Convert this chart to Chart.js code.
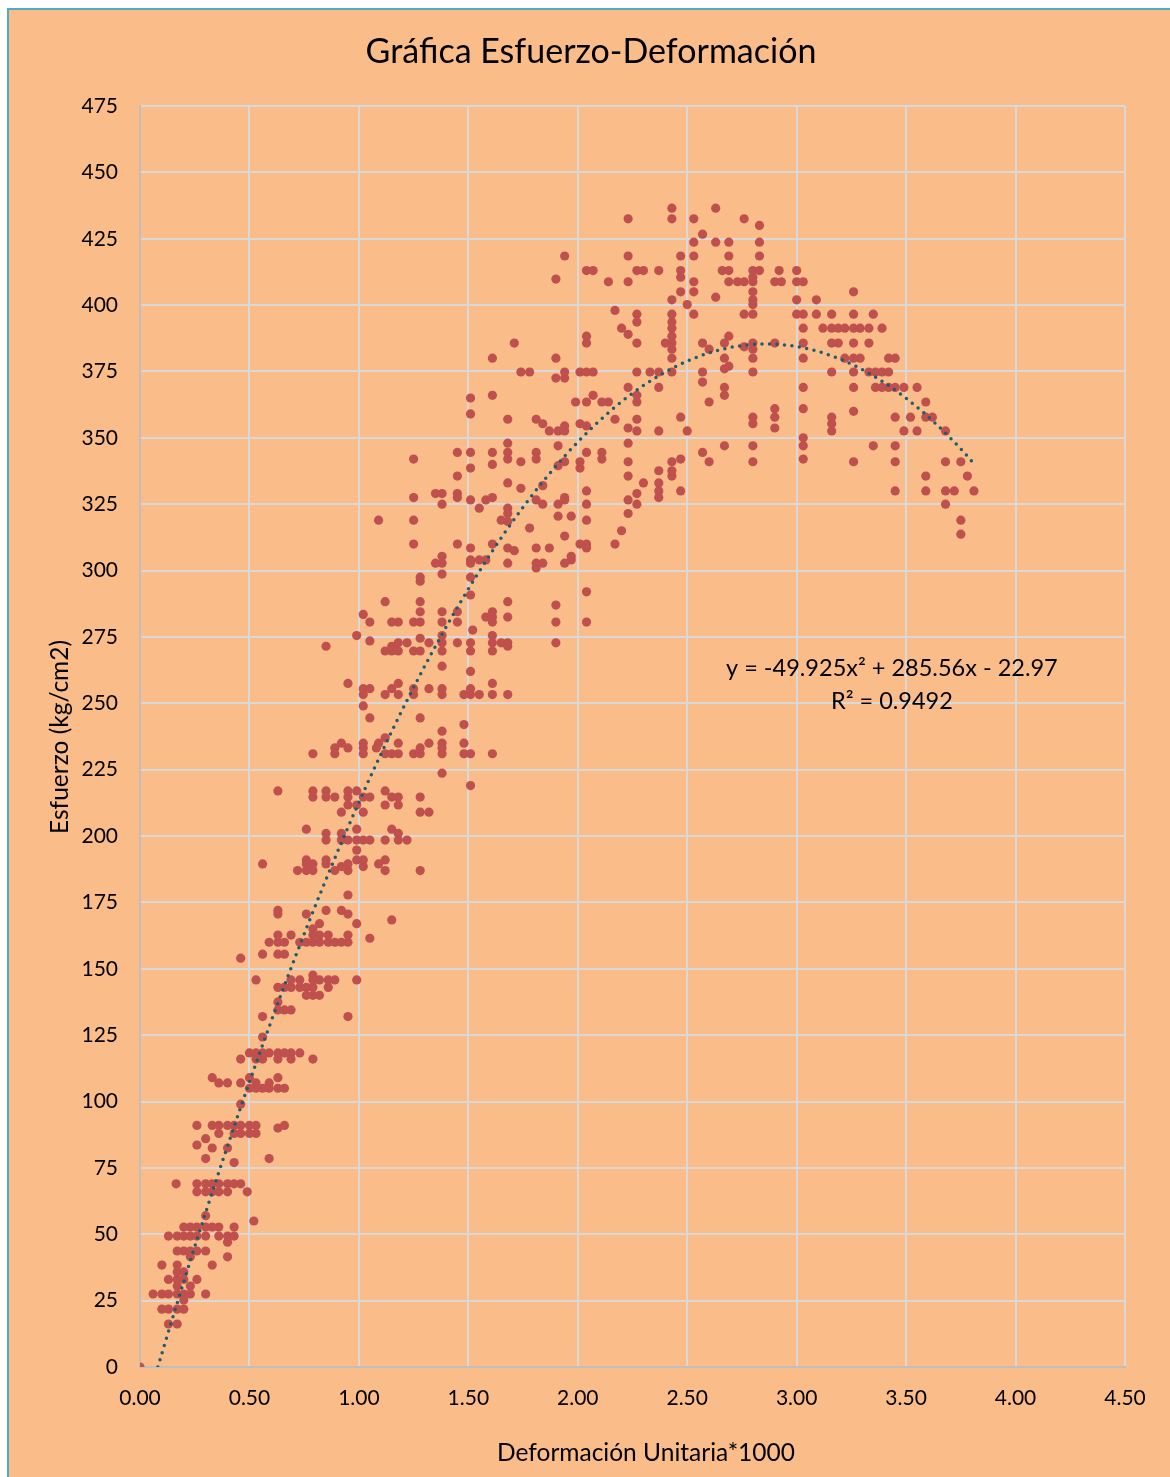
<!DOCTYPE html>
<html lang="es">
<head>
<meta charset="utf-8">
<title>Gráfica Esfuerzo-Deformación</title>
<script src="https://cdn.jsdelivr.net/npm/chart.js@4.4.1/dist/chart.umd.min.js"></script>
<style>
  html, body { margin: 0; padding: 0; background: #fff; overflow: hidden; }
  #marco {
    position: absolute; left: 7px; top: 8px; width: 1200px; height: 1500px;
    background: #FABC89; border-left: 2px solid #4BACC6; border-top: 2px solid #4BACC6;
  }
  #grafica { position: absolute; left: 0; top: 0; }
</style>
</head>
<body>
<div id="marco"></div>
<canvas id="grafica" width="1170" height="1477"></canvas>
<script>
const esfuerzo = [
  0, 16.2, 21.8, 25.2, 27.5, 30.5, 33, 35.8, 38.4, 41.5, 43.7, 47, 49.3, 52.7, 55, 57, 66, 69,
  77, 78.5, 82.5, 83.6, 86, 88, 90, 91, 99, 105, 107, 109, 116, 118.3, 124.3, 132, 134.5, 137.5,
  140, 143, 145.8, 147.6, 154, 155.5, 160, 161.5, 162.7, 165, 167, 168.4, 170.6, 172, 177.8,
  187, 188.5, 189.5, 191, 194.7, 198.5, 201, 202.6, 209, 211.7, 214.7, 217, 219, 223.7,
  231, 233.2, 235, 237, 239.5, 242, 244.5, 249, 253.3, 255.5, 257.5, 262, 264,
  269.7, 271.5, 272.8, 273.5, 274.5, 275.5, 277.6, 280.6, 282.5, 283.5, 284.5, 287, 288.3,
  290.8, 292, 296, 297.5, 298.7, 301, 302.8, 304, 305.4, 307.5, 308.5, 310, 313, 313.7, 315,
  316, 318.5, 319, 320.5, 321.5, 323.5, 325, 326.6, 327.5, 329, 330, 331, 332, 333, 335.6,
  337.6, 338.6, 339.5, 340, 341, 342, 344.5, 347, 348, 350, 352.6, 353.7, 354.5, 355.3, 357,
  357.8, 359, 360, 361, 363.5, 365, 366, 369, 371, 372.5, 374.8, 376, 377, 380, 383.4, 384.3,
  385.7, 388.3, 389, 391.3, 393.6, 396.6, 398, 400.2, 402, 403, 405, 408.8, 409.8, 410.5,
  413, 418.5, 423.7, 426.7, 430, 432.5, 436.5
];

const deformacion = [
  [0], [0.13, 0.17], [0.10, 0.13, 0.17, 0.20], [0.20],
  [0.06, 0.10, 0.13, 0.17, 0.20, 0.23, 0.30], [0.17, 0.23], [0.13, 0.17, 0.20, 0.26], [0.17, 0.20],
  [0.10, 0.17, 0.33], [0.23, 0.40], [0.17, 0.20, 0.23, 0.26, 0.30], [0.40],
  [0.13, 0.17, 0.20, 0.23, 0.26, 0.30, 0.36, 0.40, 0.43], [0.20, 0.23, 0.26, 0.30, 0.33, 0.36, 0.43],
  [0.52], [0.30], [0.26, 0.30, 0.33, 0.36, 0.40, 0.49], [0.165, 0.26, 0.30, 0.33, 0.36, 0.40, 0.43, 0.46],
  // 77 - 137.5
  [0.43], [0.30, 0.59], [0.33, 0.40], [0.26], [0.30], [0.36, 0.43, 0.46, 0.50, 0.53], [0.63],
  [0.26, 0.33, 0.36, 0.40, 0.43, 0.46, 0.50, 0.53, 0.66], [0.46], [0.50, 0.53, 0.56, 0.59, 0.63, 0.66],
  [0.36, 0.40, 0.46, 0.53, 0.59], [0.33, 0.50, 0.63], [0.46, 0.53, 0.56, 0.63, 0.69, 0.79],
  [0.50, 0.53, 0.56, 0.59, 0.63, 0.66, 0.69, 0.73], [0.56], [0.56, 0.95], [0.63, 0.66, 0.69], [0.63],
  // 140 - 177.8
  [0.76, 0.79, 0.82], [0.63, 0.66, 0.69, 0.73, 0.76, 0.79, 0.86], [0.53, 0.69, 0.73, 0.79, 0.82, 0.86, 0.89, 0.99],
  [0.79], [0.46], [0.56, 0.63, 0.66], [0.59, 0.63, 0.66, 0.73, 0.76, 0.79, 0.82, 0.86, 0.89, 0.92, 0.95],
  [1.05], [0.63, 0.69, 0.79, 0.82, 0.86, 0.95], [0.79], [0.82, 0.99], [1.15], [0.63, 0.76, 0.95],
  [0.63, 0.85, 0.92], [0.95],
  // 187 - 223.7
  [0.72, 0.76, 0.79, 0.89, 0.95, 1.12, 1.28], [0.92, 1.02], [0.56, 0.76, 0.79, 0.85, 0.95, 1.09],
  [0.76, 0.85, 0.99, 1.02, 1.12], [0.99], [0.85, 0.92, 0.95, 0.99, 1.02, 1.05, 1.12, 1.18, 1.22],
  [0.85, 0.92, 1.18], [0.76, 0.99, 1.15], [0.92, 1.02, 1.28, 1.32], [0.95, 0.99, 1.12, 1.18],
  [0.79, 0.85, 0.89, 0.95, 1.02, 1.05, 1.15, 1.18, 1.28], [0.63, 0.79, 0.85, 0.95, 0.99, 1.12], [1.51], [1.38],
  // 231 - 264
  [0.79, 0.89, 1.02, 1.12, 1.15, 1.18, 1.25, 1.28, 1.38, 1.48, 1.51, 1.61], [0.89, 0.95, 1.02, 1.08, 1.28, 1.38],
  [0.92, 1.02, 1.09, 1.18, 1.32, 1.38, 1.48], [1.12], [1.38], [1.48], [1.05, 1.28], [1.02],
  [1.02, 1.12, 1.18, 1.25, 1.38, 1.48, 1.51, 1.55, 1.61, 1.68], [1.02, 1.05, 1.15, 1.25, 1.32, 1.38, 1.51],
  [0.95, 1.18, 1.61], [1.51], [1.38],
  // 269.7 - 288.3
  [1.12, 1.15, 1.18, 1.25, 1.28, 1.38, 1.51, 1.61], [0.85, 1.15, 1.68],
  [1.18, 1.22, 1.32, 1.38, 1.45, 1.51, 1.61, 1.65, 1.68, 1.90], [1.05], [1.28], [0.99, 1.38, 1.61], [1.52],
  [1.05, 1.15, 1.18, 1.25, 1.28, 1.38, 1.45, 1.61, 1.90, 2.04], [1.58, 1.61, 1.68], [1.02],
  [1.28, 1.38, 1.45, 1.61], [1.90], [1.12, 1.28, 1.68],
  // 290.8 - 315
  [1.51], [2.04], [1.28], [1.28, 1.51], [1.38], [1.81], [1.35, 1.38, 1.51, 1.68, 1.81, 1.84, 1.94],
  [1.51, 1.55, 1.58, 1.97], [1.38, 1.97], [1.71], [1.51, 1.68, 1.81, 1.87, 2.04],
  [1.25, 1.45, 1.61, 2.01, 2.04, 2.17], [1.94], [3.75], [2.20],
  // 316 - 335.6
  [1.78], [1.68], [1.09, 1.25, 1.65, 2.04, 3.75], [1.91, 1.97], [1.68, 2.23], [1.55, 1.68],
  [1.38, 1.84, 1.91, 2.04, 2.27, 3.68], [1.51, 1.58, 1.81, 1.94, 2.23], [1.25, 1.45, 1.61, 1.94, 2.37],
  [1.35, 1.38, 1.45, 2.27], [2.04, 2.37, 2.47, 3.45, 3.59, 3.68, 3.72, 3.81], [1.74], [1.84],
  [1.68, 2.30, 2.37], [1.45, 2.23, 2.43, 3.59, 3.78],
  // 337.6 - 357
  [2.37, 2.43], [1.51, 2.01], [1.91], [1.61], [1.74, 1.94, 2.01, 2.23, 2.43, 2.60, 2.80, 3.26, 3.45, 3.68, 3.75],
  [1.25, 1.68, 1.81, 2.11, 2.47, 3.03], [1.45, 1.51, 1.61, 1.68, 1.81, 2.04, 2.11, 2.57],
  [1.91, 2.67, 2.80, 3.03, 3.35, 3.45], [1.68, 2.23], [3.03],
  [1.87, 1.91, 1.94, 2.27, 2.37, 2.50, 3.16, 3.49, 3.55, 3.68], [2.23, 2.90], [1.94, 2.04],
  [1.84, 2.01, 2.80, 3.16], [1.68, 1.81, 2.17, 2.27],
  // 357.8 - 384.3
  [2.47, 2.80, 2.90, 3.16, 3.45, 3.52, 3.59, 3.62], [1.51], [3.26], [2.90, 3.03],
  [1.99, 2.04, 2.11, 2.14, 2.27, 2.60, 3.59], [1.51], [1.61, 2.07, 2.27, 2.67],
  [2.23, 2.37, 2.67, 3.03, 3.26, 3.36, 3.39, 3.42, 3.45, 3.49, 3.55], [2.57], [1.90, 1.94],
  [1.74, 1.78, 1.94, 2.01, 2.04, 2.07, 2.27, 2.33, 2.37, 2.43, 2.57, 2.80, 3.16, 3.26, 3.33, 3.36, 3.39, 3.42],
  [2.67], [2.69], [1.61, 1.90, 2.43, 2.67, 2.80, 3.03, 3.22, 3.26, 3.29, 3.42, 3.45], [2.43, 2.60, 2.80], [2.76],
  // 385.7 - 410.5
  [1.71, 2.04, 2.27, 2.40, 2.43, 2.57, 2.67, 2.80, 2.90, 3.03, 3.16, 3.19, 3.26, 3.33], [2.04, 2.43, 2.69], [2.23],
  [2.20, 2.43, 3.03, 3.12, 3.16, 3.19, 3.22, 3.26, 3.29, 3.33, 3.39], [2.27, 2.43],
  [2.27, 2.43, 2.53, 2.76, 2.80, 3.00, 3.03, 3.09, 3.16, 3.26, 3.35], [2.17], [2.50, 2.80],
  [2.43, 2.80, 3.00, 3.09], [2.63], [2.47, 2.53, 2.80, 3.26],
  [2.14, 2.23, 2.53, 2.69, 2.73, 2.76, 2.80, 2.90, 2.93, 3.00, 3.03], [1.90], [2.47, 2.80],
  // 413 - 436.5
  [2.04, 2.07, 2.27, 2.30, 2.37, 2.47, 2.66, 2.69, 2.80, 2.83, 2.92, 3.00], [1.94, 2.23, 2.47, 2.53, 2.69, 2.83],
  [2.53, 2.63, 2.69, 2.83], [2.57], [2.83], [2.23, 2.43, 2.53, 2.76], [2.43, 2.63]
];

// Línea de tendencia polinómica (grado 2): a·x² + b·x + c
const coefTendencia = [-49.925, 285.56, -22.97];
const r2 = 0.9492;
const finTendencia = 3.81;

const puntos = [];
esfuerzo.forEach((s, i) => {
  deformacion[i].forEach(d => puntos.push({ x: d, y: s }));
});

const [a, b, c] = coefTendencia;
const inicioTendencia = (-b + Math.sqrt(b * b - 4 * a * c)) / (2 * a);
const curva = [];
for (let x = inicioTendencia; x <= finTendencia + 1e-9; x += 0.01) {
  curva.push({ x: x, y: a * x * x + b * x + c });
}

const FUENTE = 'Lato, "Open Sans", sans-serif';

const textos = {
  id: 'textos',
  afterDraw(chart) {
    const ctx = chart.ctx;
    const sx = chart.scales.x, sy = chart.scales.y;
    ctx.save();
    ctx.fillStyle = '#000';
    ctx.textBaseline = 'middle';
    ctx.textAlign = 'center';

    ctx.font = '34px ' + FUENTE;
    ctx.fillText('Gráfica Esfuerzo-Deformación', 591, 52);

    ctx.font = '24.5px ' + FUENTE;
    ctx.fillText('Deformación Unitaria*1000', 646, 1453);

    ctx.save();
    ctx.translate(60, 737);
    ctx.rotate(-Math.PI / 2);
    ctx.fillText('Esfuerzo (kg/cm2)', 0, 0);
    ctx.restore();

    // ecuación de la tendencia
    const fmt = v => Math.abs(v).toString();
    const ecuacion = 'y = ' + (a < 0 ? '-' : '') + fmt(a) + 'x² ' + (b < 0 ? '- ' : '+ ') + fmt(b) + 'x ' +
      (c < 0 ? '- ' : '+ ') + fmt(c);
    ctx.font = '23.5px ' + FUENTE;
    const ex = sx.getPixelForValue(3.435);
    ctx.fillText(ecuacion, ex, sy.getPixelForValue(263.3));
    ctx.fillText('R² = ' + r2, ex, sy.getPixelForValue(250.9));
    ctx.restore();
  }
};

new Chart(document.getElementById('grafica').getContext('2d'), {
  type: 'scatter',
  data: {
    datasets: [
      {
        type: 'line',
        data: curva,
        borderColor: '#1F5B70',
        borderWidth: 3.5,
        borderDash: [0, 7.5],
        borderCapStyle: 'round',
        pointRadius: 0,
        fill: false,
        tension: 0,
        order: 0
      },
      {
        data: puntos,
        backgroundColor: '#C0504D',
        borderColor: '#C0504D',
        borderWidth: 0,
        pointRadius: 4.6,
        order: 1
      }
    ]
  },
  options: {
    responsive: false,
    animation: false,
    layout: { padding: { top: 106, right: 45, left: 0, bottom: 0 } },
    plugins: {
      legend: { display: false },
      tooltip: { enabled: false },
      title: { display: false }
    },
    scales: {
      x: {
        type: 'linear',
        min: 0,
        max: 4.5,
        ticks: {
          stepSize: 0.5,
          padding: 19,
          color: '#000',
          font: { family: FUENTE, size: 21 },
          callback: v => v.toFixed(2)
        },
        grid: { color: '#D9D9D9', lineWidth: 2, drawTicks: false },
        border: { color: '#BFBFBF', width: 2 },
        afterFit: s => { s.height = 110; }
      },
      y: {
        min: 0,
        max: 475,
        ticks: {
          stepSize: 25,
          padding: 22,
          color: '#000',
          font: { family: FUENTE, size: 21 }
        },
        grid: { color: '#D9D9D9', lineWidth: 2, drawTicks: false },
        border: { color: '#BFBFBF', width: 2 },
        afterFit: s => { s.width = 140; }
      }
    }
  },
  plugins: [textos]
});
</script>
</body>
</html>
